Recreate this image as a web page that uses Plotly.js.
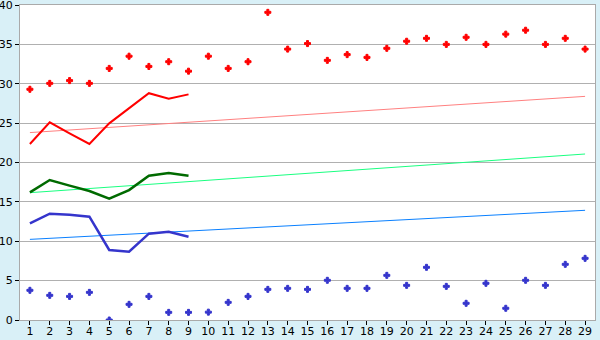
<!DOCTYPE html>
<html>
<head>
<meta charset="utf-8">
<script src="https://cdn.plot.ly/plotly-3.0.1.min.js"></script>
<style>html,body{margin:0;padding:0;background:#d9f0f7;}#chart{width:600px;height:340px;}</style>
</head>
<body>
<div id="chart"></div>
<script>
const days = Array.from({length: 29}, (_, i) => i + 1);
const lineDays = [1, 2, 3, 4, 5, 6, 7, 8, 9];

const redPoints = [29.3, 30.05, 30.4, 30.05, 31.95, 33.5, 32.2, 32.8, 31.6, 33.5, 31.95, 32.8, 39.07, 34.4, 35.1, 32.97, 33.7, 33.35, 34.5, 35.4, 35.77, 35.0, 35.9, 35.0, 36.3, 36.8, 35.0, 35.77, 34.4];
const bluePoints = [3.77, 3.13, 3.0, 3.51, 0.0, 1.99, 3.0, 0.97, 0.97, 1.0, 2.24, 3.0, 3.89, 4.02, 3.89, 5.04, 4.02, 4.02, 5.67, 4.4, 6.69, 4.27, 2.12, 4.66, 1.49, 5.04, 4.4, 7.07, 7.83];

const redLine = [22.35, 25.1, 23.7, 22.35, 24.97, 26.9, 28.8, 28.1, 28.65];
const greenLine = [16.2, 17.78, 17.06, 16.38, 15.4, 16.5, 18.33, 18.67, 18.33];
const blueLine = [12.27, 13.5, 13.37, 13.12, 8.89, 8.67, 10.96, 11.2, 10.58];

const trendDays = [1, 29];
const redTrend = [23.8, 28.4];
const greenTrend = [16.17, 21.08];
const blueTrend = [10.24, 13.93];

const yTicks = [0, 5, 10, 15, 20, 25, 30, 35, 40];

const traces = [
  {x: trendDays, y: redTrend, mode: 'lines', line: {color: '#ff8080', width: 1}},
  {x: trendDays, y: greenTrend, mode: 'lines', line: {color: '#1aff80', width: 1}},
  {x: trendDays, y: blueTrend, mode: 'lines', line: {color: '#0a80ff', width: 1}},
  {x: lineDays, y: redLine, mode: 'lines', line: {color: '#ff0000', width: 2}},
  {x: lineDays, y: greenLine, mode: 'lines', line: {color: '#006a00', width: 2.5}},
  {x: lineDays, y: blueLine, mode: 'lines', line: {color: '#3535cc', width: 2.5}},
  {x: days, y: redPoints, mode: 'markers', marker: {symbol: 'cross', size: 5, color: '#ff0000', line: {width: 1, color: '#ff0000'}}},
  {x: days, y: bluePoints, mode: 'markers', marker: {symbol: 'cross', size: 5, color: '#3535cc', line: {width: 1, color: '#3535cc'}}}
];

const layout = {
  width: 600, height: 340,
  margin: {l: 20, r: 5, t: 5, b: 20, pad: 0},
  paper_bgcolor: '#d9f0f7',
  plot_bgcolor: '#ffffff',
  showlegend: false,
  font: {family: 'DejaVu Sans, Verdana, sans-serif', size: 11, color: '#000000'},
  xaxis: {
    range: [0.5, 29.5], tickvals: days, ticktext: days.map(String),
    showgrid: false, zeroline: false, showline: true, linecolor: '#aaaaaa', linewidth: 1, mirror: true,
    ticks: 'outside', ticklen: 4, tickcolor: '#000000', tickwidth: 1, fixedrange: true,
    ticklabelstandoff: -3, automargin: false
  },
  yaxis: {
    range: [0, 40.001], tickvals: yTicks, ticktext: yTicks.map(String),
    showgrid: true, gridcolor: '#b0b0b0', gridwidth: 1, zeroline: false,
    showline: true, linecolor: '#aaaaaa', linewidth: 1, mirror: true,
    ticks: 'outside', ticklen: 4, tickcolor: '#000000', tickwidth: 1, fixedrange: true,
    ticklabeloverflow: 'allow', automargin: false
  }
};

Plotly.newPlot('chart', traces, layout, {staticPlot: true, displayModeBar: false});
</script>
</body>
</html>
